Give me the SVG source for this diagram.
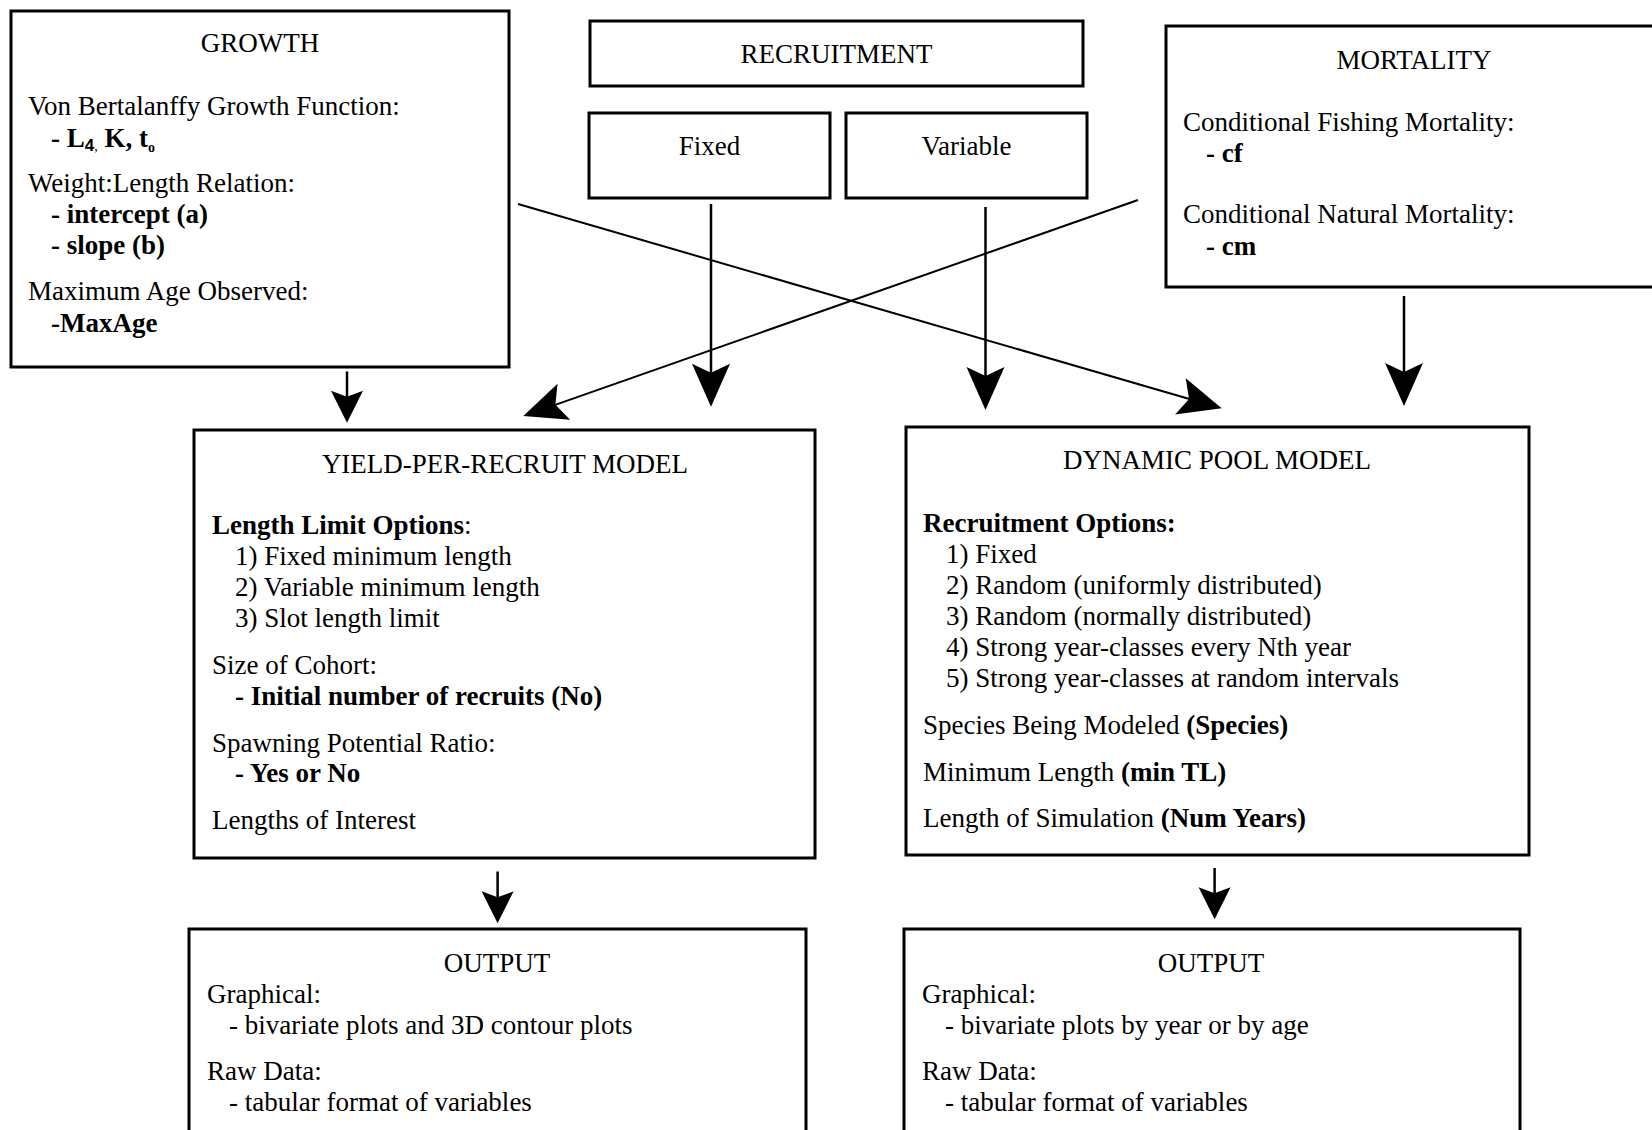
<svg xmlns="http://www.w3.org/2000/svg" width="1652" height="1130" viewBox="0 0 1652 1130">
<defs>
<style>
text{font-family:"Liberation Serif","Times New Roman",serif;font-size:27px;fill:#000}
.c{text-anchor:middle}
.b{font-weight:bold}
.box{fill:#fff;stroke:#000;stroke-width:3}
.ln{stroke:#000;stroke-width:2.5;fill:none}
.dg{stroke:#000;stroke-width:2;fill:none}
</style>
<marker id="big" markerUnits="userSpaceOnUse" orient="auto" refX="0" refY="0" markerWidth="80" markerHeight="80" overflow="visible"><path d="M30,0 L-13,-19 L-4,0 L-13,19 Z" fill="#000"/></marker>
<marker id="sm" markerUnits="userSpaceOnUse" orient="auto" refX="0" refY="0" markerWidth="60" markerHeight="60" overflow="visible"><path d="M24,0 L-8,-16 L-2,0 L-8,16 Z" fill="#000"/></marker>
</defs>
<rect x="0" y="0" width="1652" height="1130" fill="#fff"/>

<g id="growth">
<rect class="box" x="11" y="11" width="498" height="356"/>
<text class="c" x="260" y="52">GROWTH</text>
<text x="28" y="115">Von Bertalanffy Growth Function:</text>
<text x="51" y="147" class="b">- L<tspan font-family="Liberation Sans, Arial, sans-serif" font-size="17" dy="4">4</tspan><tspan font-size="14" font-weight="normal">,</tspan><tspan dy="-4"> K, t</tspan><tspan font-size="14" dy="5">o</tspan></text>
<text x="28" y="192">Weight:Length Relation:</text>
<text x="51" y="223" class="b">- intercept (a)</text>
<text x="51" y="254" class="b">- slope (b)</text>
<text x="28" y="300">Maximum Age Observed:</text>
<text x="51" y="332" class="b">-MaxAge</text>
</g>

<g id="recruitment">
<rect class="box" x="590" y="21" width="493" height="65"/>
<text class="c" x="836.5" y="63">RECRUITMENT</text>
</g>

<g id="fixed">
<rect class="box" x="589" y="113" width="241" height="85"/>
<text class="c" x="709.5" y="155">Fixed</text>
</g>

<g id="variable">
<rect class="box" x="846" y="113" width="241" height="85"/>
<text class="c" x="966.5" y="155">Variable</text>
</g>

<g id="mortality">
<rect class="box" x="1166" y="26" width="500" height="261"/>
<text class="c" x="1414" y="69">MORTALITY</text>
<text x="1183" y="131">Conditional Fishing Mortality:</text>
<text x="1206" y="162" class="b">- cf</text>
<text x="1183" y="223">Conditional Natural Mortality:</text>
<text x="1206" y="255" class="b">- cm</text>
</g>

<g id="ypr">
<rect class="box" x="194" y="430" width="621" height="428"/>
<text class="c" x="505" y="473">YIELD-PER-RECRUIT MODEL</text>
<text x="212" y="534"><tspan class="b">Length Limit Options</tspan>:</text>
<text x="235" y="565">1) Fixed minimum length</text>
<text x="235" y="596">2) Variable minimum length</text>
<text x="235" y="627">3) Slot length limit</text>
<text x="212" y="674">Size of Cohort:</text>
<text x="235" y="705" class="b">- Initial number of recruits (No)</text>
<text x="212" y="752">Spawning Potential Ratio:</text>
<text x="235" y="782" class="b">- Yes or No</text>
<text x="212" y="829">Lengths of Interest</text>
</g>

<g id="dpm">
<rect class="box" x="906" y="427" width="623" height="428"/>
<text class="c" x="1217" y="469">DYNAMIC POOL MODEL</text>
<text x="923" y="532" class="b">Recruitment Options:</text>
<text x="946" y="563">1) Fixed</text>
<text x="946" y="594">2) Random (uniformly distributed)</text>
<text x="946" y="625">3) Random (normally distributed)</text>
<text x="946" y="656">4) Strong year-classes every Nth year</text>
<text x="946" y="687">5) Strong year-classes at random intervals</text>
<text x="923" y="734">Species Being Modeled <tspan class="b">(Species)</tspan></text>
<text x="923" y="781">Minimum Length <tspan class="b">(min TL)</tspan></text>
<text x="923" y="827">Length of Simulation <tspan class="b">(Num Years)</tspan></text>
</g>

<g id="output1">
<rect class="box" x="189" y="929" width="617" height="260"/>
<text class="c" x="497" y="972">OUTPUT</text>
<text x="207" y="1003">Graphical:</text>
<text x="229" y="1034">- bivariate plots and 3D contour plots</text>
<text x="207" y="1080">Raw Data:</text>
<text x="229" y="1111">- tabular format of variables</text>
</g>

<g id="output2">
<rect class="box" x="904" y="929" width="616" height="260"/>
<text class="c" x="1211" y="972">OUTPUT</text>
<text x="922" y="1003">Graphical:</text>
<text x="945" y="1034">- bivariate plots by year or by age</text>
<text x="922" y="1080">Raw Data:</text>
<text x="945" y="1111">- tabular format of variables</text>
</g>

<g id="connectors">
<path class="ln" d="M347,371.5 V398.7" marker-end="url(#sm)"/>
<path class="ln" d="M711,204 V376.7" marker-end="url(#big)"/>
<path class="ln" d="M985.5,207 V380" marker-end="url(#big)"/>
<path class="ln" d="M1404,296 V376" marker-end="url(#big)"/>
<path class="dg" d="M518,204 L1192.9,400" marker-end="url(#big)"/>
<path class="dg" d="M1138,200 L551.6,406.1" marker-end="url(#big)"/>
<path class="ln" d="M497.6,871.5 V899.3" marker-end="url(#sm)"/>
<path class="ln" d="M1214.6,868 V895.3" marker-end="url(#sm)"/>
</g>
</svg>
